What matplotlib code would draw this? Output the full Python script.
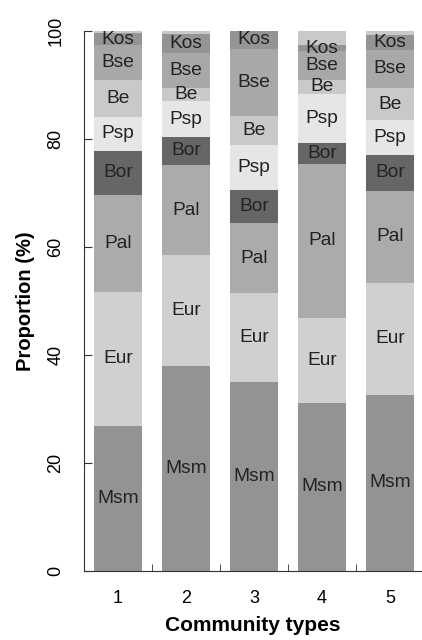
import numpy as np
import matplotlib
matplotlib.use('Agg')
import matplotlib.pyplot as plt

plt.rcParams['font.family'] = ['Liberation Sans', 'DejaVu Sans']

# community types
types = ['1', '2', '3', '4', '5']

# proportion (%) per group, bottom to top, for each community type
groups = ['Msm', 'Eur', 'Pal', 'Bor', 'Psp', 'Be', 'Bse', 'Kos', '']
msm = [26.9, 38.0, 34.9, 31.1, 32.6]
eur = [24.7, 20.5, 16.5, 15.7, 20.7]
pal = [18.0, 16.6, 13.0, 28.6, 17.1]
bor = [8.2, 5.3, 6.2, 3.8, 6.6]
psp = [6.3, 6.5, 8.2, 9.1, 6.4]
be = [6.8, 2.5, 5.5, 2.6, 6.0]
bse = [6.4, 6.5, 12.4, 5.3, 7.1]
kos = [2.3, 3.5, 3.3, 1.2, 2.8]
other = [0.4, 0.6, 0.0, 2.6, 0.7]

colors = ['#939393', '#d0d0d0', '#ababab', '#666666', '#e6e6e6',
          '#c9c9c9', '#a8a8a8', '#949494', '#c9c9c9']

series = [msm, eur, pal, bor, psp, be, bse, kos, other]

fig = plt.figure(figsize=(4.22, 6.4), dpi=100)
ax = fig.add_axes([0.199, 0.108, 0.801, 0.844])

x = np.arange(1, len(types) + 1)
bottom = np.zeros(len(types))
for name, vals, c in zip(groups, series, colors):
    vals = np.array(vals)
    ax.bar(x, vals, width=0.71, bottom=bottom, color=c, edgecolor='none')
    if name:
        for xi, b, v in zip(x, bottom, vals):
            ax.text(xi, b + v / 2, name, ha='center', va='center',
                    fontsize=13.8, color='#222222')
    bottom += vals

ax.set_xlim(0.5, 5.47)
ax.set_ylim(0, 100)
ax.spines['top'].set_visible(False)
ax.spines['right'].set_visible(False)
ax.spines['left'].set_color('#333333')
ax.spines['bottom'].set_color('#333333')

ax.set_xticks(x)
ax.set_xticklabels(types, fontsize=13)
ax.set_xticks([1.5, 2.5, 3.5, 4.5], minor=True)
ax.tick_params(axis='x', which='major', length=0, pad=14)
ax.tick_params(axis='x', which='minor', direction='in', length=5, color='#333333')

ax.set_yticks([0, 20, 40, 60, 80, 100])
ax.tick_params(axis='y', direction='in', length=6, color='#333333', labelsize=13, pad=14)
for lab in ax.get_yticklabels():
    lab.set_rotation(90)
    lab.set_va('center')

ax.set_ylabel('Proportion (%)', fontsize=14.5, fontweight='bold', labelpad=9)
ax.set_xlabel('Community types', fontsize=15, fontweight='bold', labelpad=6)

fig.savefig('out.png', dpi=100)
